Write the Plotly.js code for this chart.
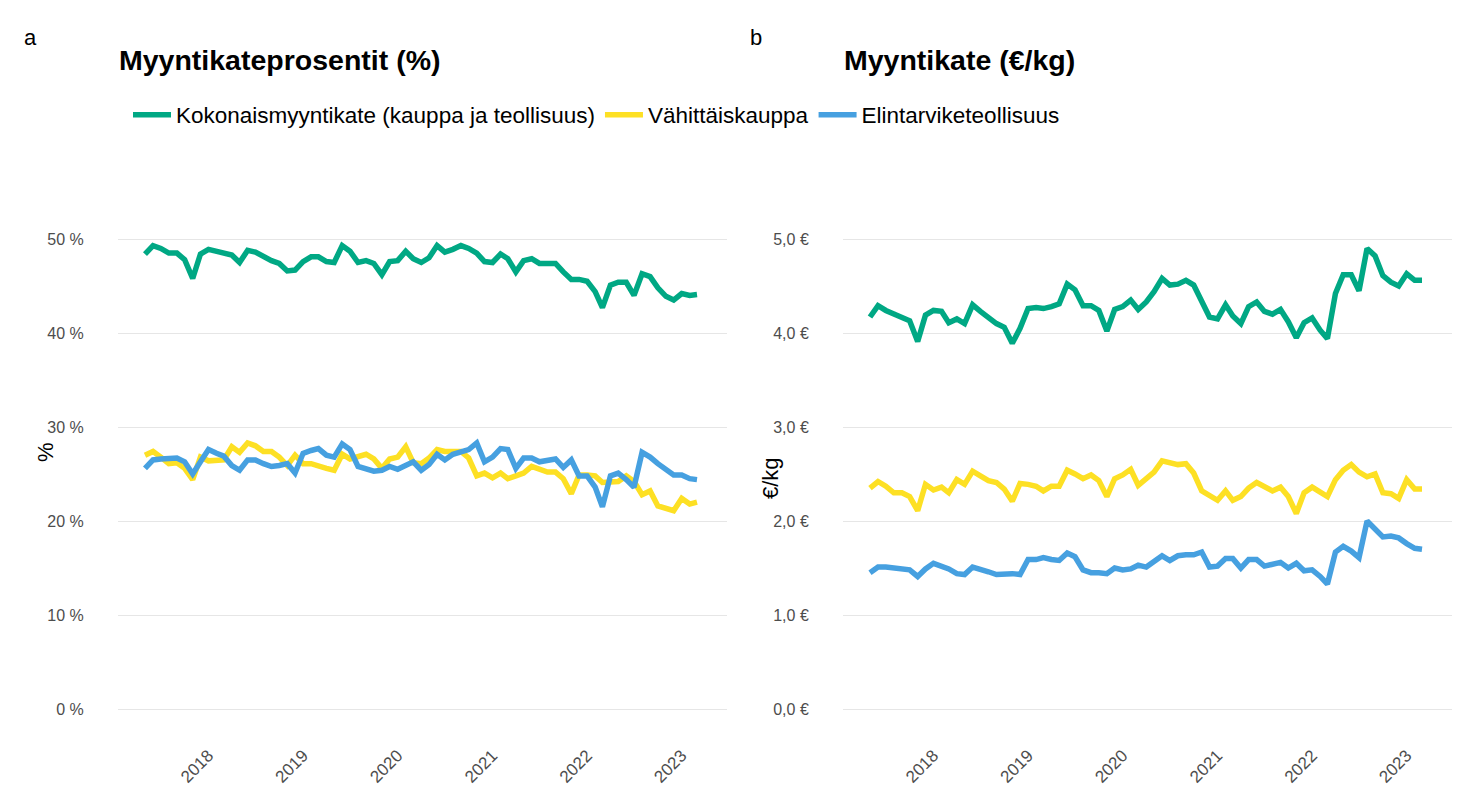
<!DOCTYPE html>
<html>
<head>
<meta charset="utf-8">
<script src="https://cdn.plot.ly/plotly-3.0.1.min.js"></script>
<style>html,body{margin:0;padding:0;background:#fff;}#chart{width:1472px;height:810px;}</style>
</head>
<body>
<div id="chart"></div>
<script>
// ---- Data ----
const months = [
 "2017-05-01","2017-06-01","2017-07-01","2017-08-01","2017-09-01","2017-10-01","2017-11-01","2017-12-01",
 "2018-01-01","2018-02-01","2018-03-01","2018-04-01","2018-05-01","2018-06-01","2018-07-01","2018-08-01","2018-09-01","2018-10-01","2018-11-01","2018-12-01",
 "2019-01-01","2019-02-01","2019-03-01","2019-04-01","2019-05-01","2019-06-01","2019-07-01","2019-08-01","2019-09-01","2019-10-01","2019-11-01","2019-12-01",
 "2020-01-01","2020-02-01","2020-03-01","2020-04-01","2020-05-01","2020-06-01","2020-07-01","2020-08-01","2020-09-01","2020-10-01","2020-11-01","2020-12-01",
 "2021-01-01","2021-02-01","2021-03-01","2021-04-01","2021-05-01","2021-06-01","2021-07-01","2021-08-01","2021-09-01","2021-10-01","2021-11-01","2021-12-01",
 "2022-01-01","2022-02-01","2022-03-01","2022-04-01","2022-05-01","2022-06-01","2022-07-01","2022-08-01","2022-09-01","2022-10-01","2022-11-01","2022-12-01",
 "2023-01-01","2023-02-01","2023-03-01"
];
const seriesNames = ["Kokonaismyyntikate (kauppa ja teollisuus)", "Vähittäiskauppa", "Elintarviketeollisuus"];

// Panel a: myyntikateprosentit (%)
const pctTotal = [48.4,49.3,49.0,48.5,48.5,47.8,45.8,48.4,48.9,48.7,48.4,48.3,47.5,48.8,48.6,48.1,47.7,47.4,46.6,46.7,47.6,48.1,48.1,47.6,47.5,49.3,48.7,47.5,47.7,47.4,46.2,47.6,47.7,48.7,47.9,
 47.5,48.0,49.3,48.6,48.9,49.3,49.0,48.5,47.6,47.5,48.4,47.9,46.5,47.7,47.9,47.4,47.4,47.4,46.5,45.7,45.7,45.5,44.4,42.7,45.1,45.4,45.4,44.0,46.3,46.0,44.8,43.9,43.5,44.2,44.0,44.1];
const pctRetail = [27.0,27.4,26.8,26.1,26.2,25.6,24.4,26.8,26.4,26.5,26.5,27.9,27.3,28.3,28.0,27.4,27.4,26.8,25.9,27.0,26.1,26.1,25.8,25.6,25.4,27.1,26.6,26.8,27.1,26.6,25.6,26.6,26.8,27.9,26.2,
 26.1,26.7,27.6,27.4,27.4,27.4,26.7,24.8,25.1,24.6,25.1,24.5,24.8,25.1,25.8,25.5,25.2,25.2,24.5,22.9,24.9,24.9,24.8,24.1,24.1,24.2,24.8,24.2,22.8,23.2,21.6,21.3,21.1,22.4,21.8,22.0];
const pctIndustry = [25.6,26.5,26.6,26.6,26.7,26.3,25.0,26.3,27.6,27.2,26.9,25.9,25.4,26.5,26.5,26.1,25.8,25.9,26.1,25.1,27.2,27.5,27.7,27.0,26.8,28.2,27.6,25.8,25.5,25.3,25.4,25.8,25.5,25.9,26.3,
 25.4,26.0,27.1,26.5,27.1,27.4,27.6,28.3,26.3,26.8,27.7,27.6,25.6,26.7,26.7,26.3,26.5,26.6,25.7,26.5,24.8,24.8,23.6,21.5,24.8,25.1,24.4,23.6,27.3,26.8,26.1,25.4,24.9,24.9,24.5,24.4];

// Panel b: myyntikate (€/kg)
const kgTotal = [4.17,4.29,4.24,4.20,4.17,4.13,3.91,4.19,4.24,4.23,4.11,4.15,4.10,4.30,4.23,4.17,4.10,4.06,3.89,4.05,4.26,4.27,4.26,4.28,4.31,4.52,4.46,4.29,4.29,4.24,4.02,4.25,4.28,4.35,4.25,
 4.33,4.44,4.58,4.51,4.52,4.56,4.51,4.33,4.17,4.15,4.30,4.18,4.10,4.28,4.33,4.23,4.20,4.25,4.12,3.95,4.11,4.16,4.03,3.94,4.42,4.62,4.62,4.45,4.90,4.82,4.61,4.54,4.50,4.63,4.56,4.56];
const kgRetail = [2.35,2.42,2.37,2.30,2.30,2.26,2.11,2.39,2.33,2.36,2.30,2.44,2.39,2.53,2.48,2.43,2.41,2.34,2.21,2.40,2.39,2.37,2.32,2.37,2.37,2.54,2.50,2.45,2.49,2.43,2.26,2.45,2.49,2.55,2.38,
 2.45,2.52,2.64,2.62,2.60,2.61,2.51,2.32,2.27,2.22,2.32,2.22,2.26,2.35,2.41,2.37,2.32,2.36,2.26,2.08,2.30,2.36,2.31,2.26,2.44,2.54,2.60,2.52,2.47,2.50,2.30,2.29,2.24,2.44,2.34,2.34];
const kgIndustry = [1.45,1.51,1.51,1.50,1.50,1.48,1.41,1.49,1.55,1.52,1.49,1.44,1.43,1.51,1.49,1.46,1.43,1.44,1.44,1.43,1.59,1.59,1.61,1.59,1.58,1.66,1.62,1.48,1.45,1.45,1.44,1.50,1.48,1.49,1.53,
 1.51,1.57,1.63,1.58,1.63,1.64,1.64,1.67,1.51,1.52,1.60,1.60,1.50,1.59,1.59,1.52,1.54,1.56,1.50,1.55,1.47,1.48,1.41,1.33,1.67,1.73,1.68,1.61,2.00,1.92,1.83,1.84,1.82,1.76,1.71,1.70];

const yearTicks = ["2018-01-01","2019-01-01","2020-01-01","2021-01-01","2022-01-01","2023-01-01"];
const yearLabels = ["2018","2019","2020","2021","2022","2023"];
const pctTicks = [0,10,20,30,40,50];
const pctLabels = ["0 %","10 %","20 %","30 %","40 %","50 %"];
const kgTicks = [0,1,2,3,4,5];
const kgLabels = ["0,0 €","1,0 €","2,0 €","3,0 €","4,0 €","5,0 €"];
const colors = ["#00A884", "#FDE024", "#46A0E0"];

// ---- Layout geometry (pixels) ----
const W = 1472, H = 810;
const FONT = "Liberation Sans, Arial, sans-serif";
const plotTop = 222, plotBot = 732;
function xRange(firstPx, lastPx, domL, domR) {
  const t0 = new Date(months[0]).getTime();
  const t1 = new Date(months[months.length-1]).getTime();
  const per = (t1 - t0) / (lastPx - firstPx);
  return [new Date(t0 - (firstPx - domL) * per).toISOString(), new Date(t1 + (domR - lastPx) * per).toISOString()];
}
function yRange(zeroPx, topVal, topPx) {
  const per = topVal / (zeroPx - topPx);
  return [-(plotBot - zeroPx) * per, topVal + (topPx - plotTop) * per];
}
const ydom = [(H - plotBot) / H, (H - plotTop) / H];

const traces = [];
const aSeries = [pctTotal, pctRetail, pctIndustry];
const bSeries = [kgTotal, kgRetail, kgIndustry];
aSeries.forEach((s, i) => traces.push({x: months, y: s, type: "scatter", mode: "lines", name: seriesNames[i],
  line: {color: colors[i], width: 5.5}, xaxis: "x", yaxis: "y", legendgroup: "g" + i, showlegend: true}));
bSeries.forEach((s, i) => traces.push({x: months, y: s, type: "scatter", mode: "lines", name: seriesNames[i],
  line: {color: colors[i], width: 5.5}, xaxis: "x2", yaxis: "y2", legendgroup: "g" + i, showlegend: false}));

const tickFont = {family: FONT, size: 16, color: "#4d4d4d"};
function xAxis(domL, domR, firstPx, lastPx, anchor) {
  return {domain: [domL / W, domR / W], anchor: anchor, type: "date", range: xRange(firstPx, lastPx, domL, domR),
    tickmode: "array", tickvals: yearTicks, ticktext: yearLabels, tickangle: -45,
    ticks: "outside", ticklen: 6, tickcolor: "rgba(0,0,0,0)", showgrid: false, zeroline: false, showline: false,
    tickfont: {family: FONT, size: 17, color: "#4d4d4d"}, automargin: false, fixedrange: true};
}
function yAxis(range, vals, labels, anchor) {
  return {domain: ydom, anchor: anchor, range: range, tickmode: "array", tickvals: vals, ticktext: labels,
    ticks: "outside", ticklen: 30, tickcolor: "rgba(0,0,0,0)", showgrid: true, gridcolor: "#e6e6e6", gridwidth: 1,
    zeroline: false, showline: false, tickfont: tickFont, automargin: false, fixedrange: true};
}

const layout = {
  width: W, height: H, margin: {l: 0, r: 0, t: 0, b: 0},
  paper_bgcolor: "#ffffff", plot_bgcolor: "#ffffff",
  font: {family: FONT, color: "#000"},
  showlegend: true,
  legend: {orientation: "h", x: 128 / W, xanchor: "left", y: (H - 115) / H, yanchor: "middle",
    font: {family: FONT, size: 22.5, color: "#000"}, bgcolor: "rgba(0,0,0,0)", itemwidth: 38, tracegroupgap: 0},
  xaxis: xAxis(118, 727, 145, 697, "y"),
  yaxis: yAxis(yRange(709, 50, 239), pctTicks, pctLabels, "x"),
  xaxis2: xAxis(843, 1452, 870, 1422, "y2"),
  yaxis2: yAxis(yRange(709, 5, 239), kgTicks, kgLabels, "x2"),
  annotations: [
    {text: "a", xref: "paper", yref: "paper", x: 30 / W, y: (H - 37) / H, xanchor: "center", yanchor: "middle", showarrow: false, font: {family: FONT, size: 22, color: "#000"}},
    {text: "b", xref: "paper", yref: "paper", x: 756 / W, y: (H - 37) / H, xanchor: "center", yanchor: "middle", showarrow: false, font: {family: FONT, size: 22, color: "#000"}},
    {text: "<b>Myyntikateprosentit (%)</b>", xref: "paper", yref: "paper", x: 117 / W, y: (H - 60) / H, xanchor: "left", yanchor: "middle", showarrow: false, font: {family: FONT, size: 28.5, color: "#000"}},
    {text: "<b>Myyntikate (€/kg)</b>", xref: "paper", yref: "paper", x: 842 / W, y: (H - 60) / H, xanchor: "left", yanchor: "middle", showarrow: false, font: {family: FONT, size: 28.5, color: "#000"}},
    {text: "%", xref: "paper", yref: "paper", x: 45 / W, y: (H - 452) / H, xanchor: "center", yanchor: "middle", textangle: -90, showarrow: false, font: {family: FONT, size: 22, color: "#000"}},
    {text: "€/kg", xref: "paper", yref: "paper", x: 770 / W, y: (H - 478) / H, xanchor: "center", yanchor: "middle", textangle: -90, showarrow: false, font: {family: FONT, size: 22, color: "#000"}}
  ]
};

Plotly.newPlot("chart", traces, layout, {staticPlot: true, displayModeBar: false});
</script>
</body>
</html>
